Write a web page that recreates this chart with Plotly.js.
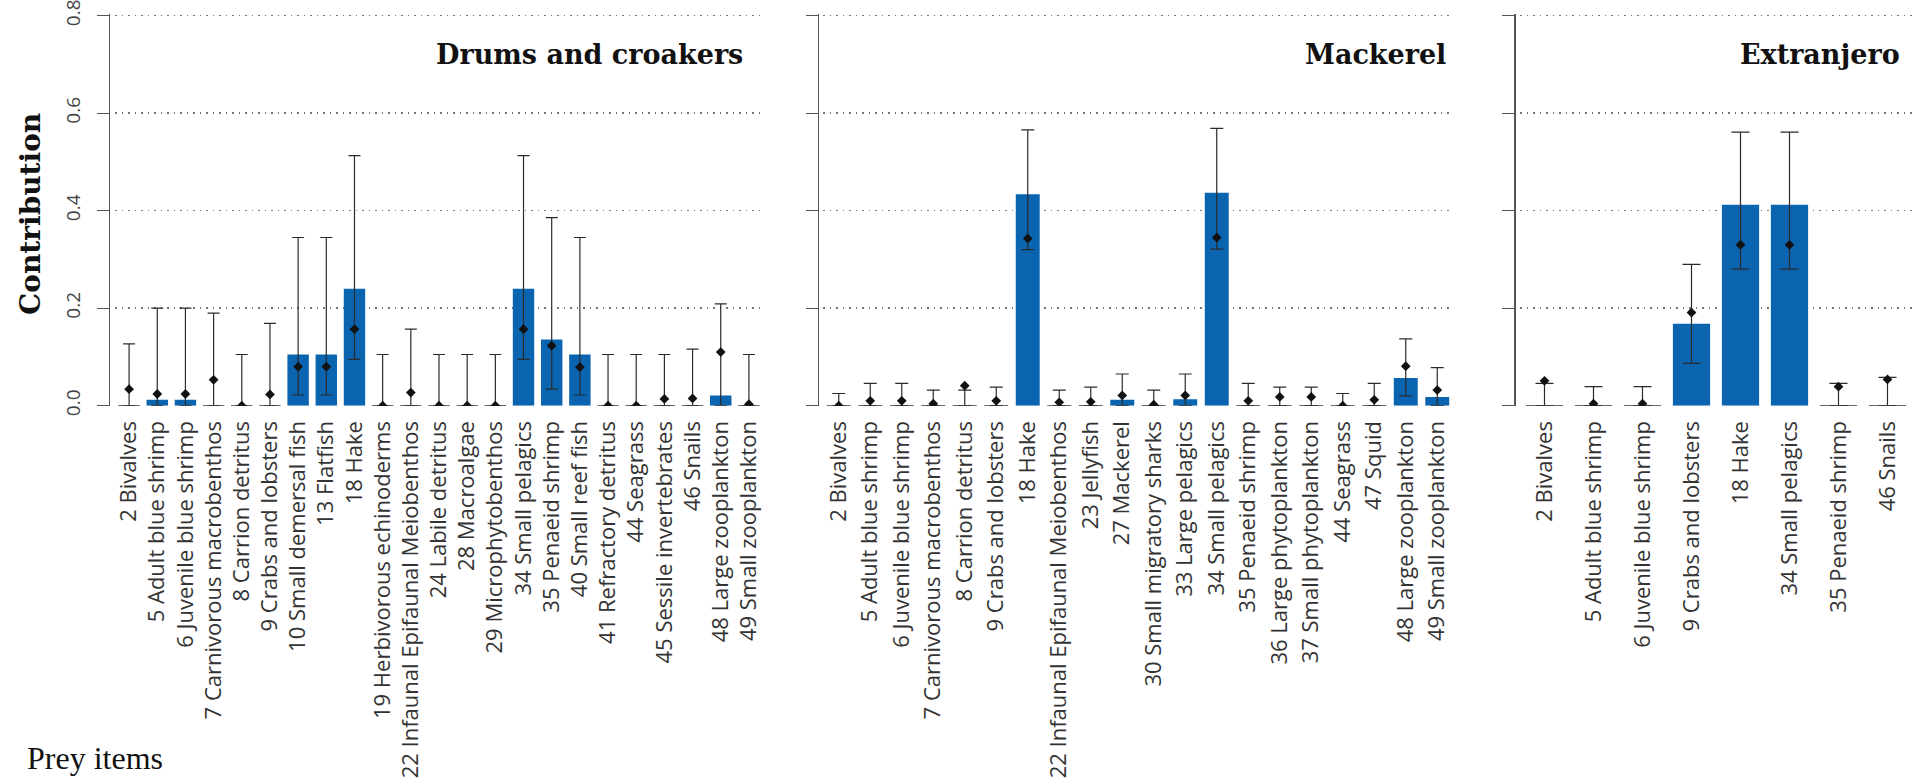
<!DOCTYPE html>
<html>
<head>
<meta charset="utf-8">
<script src="https://cdn.plot.ly/plotly-3.0.1.min.js"></script>
<style>
  html, body { margin: 0; padding: 0; background: #ffffff; }
  #chart { width: 1917px; height: 780px; }
</style>
</head>
<body>
<div id="chart"></div>
<script>
// Diet contributions of prey items for three predator groups
const yTicks = [0, 0.2, 0.4, 0.6, 0.8];
const yTickText = ["0.0", "0.2", "0.4", "0.6", "0.8"];
const gridVals = [0.2, 0.4, 0.6, 0.8];

// Drums and croakers
const drumsName = "Drums and croakers";
const drumsPrey = ["2 Bivalves", "5 Adult blue shrimp", "6 Juvenile blue shrimp", "7 Carnivorous macrobenthos",
  "8 Carrion detritus", "9 Crabs and lobsters", "10 Small demersal fish", "13 Flatfish", "18 Hake",
  "19 Herbivorous echinoderms", "22 Infaunal Epifaunal Meiobenthos", "24 Labile detritus", "28 Macroalgae",
  "29 Microphytobenthos", "34 Small pelagics", "35 Penaeid shrimp", "40 Small reef fish",
  "41 Refractory detritus", "44 Seagrass", "45 Sessile invertebrates", "46 Snails",
  "48 Large zooplankton", "49 Small zooplankton"];
const drumsBar = [0, 0.012, 0.012, 0, 0, 0, 0.105, 0.105, 0.24, 0, 0, 0, 0, 0, 0.24, 0.136, 0.105, 0, 0, 0, 0, 0.021, 0];
const drumsMean = [0.034, 0.024, 0.024, 0.053, 0, 0.023, 0.08, 0.08, 0.157, 0, 0.027, 0, 0, 0, 0.157, 0.123, 0.079, 0, 0, 0.014, 0.015, 0.11, 0.003];
const drumsLow = [0, 0, 0, 0, 0, 0, 0.022, 0.022, 0.095, 0, 0, 0, 0, 0, 0.095, 0.034, 0.022, 0, 0, 0, 0, 0, 0];
const drumsHigh = [0.127, 0.2, 0.2, 0.19, 0.105, 0.169, 0.345, 0.345, 0.513, 0.105, 0.157, 0.105, 0.105, 0.105, 0.513, 0.386, 0.345, 0.105, 0.105, 0.105, 0.116, 0.209, 0.105];

// Mackerel
const mackName = "Mackerel";
const mackPrey = ["2 Bivalves", "5 Adult blue shrimp", "6 Juvenile blue shrimp", "7 Carnivorous macrobenthos",
  "8 Carrion detritus", "9 Crabs and lobsters", "18 Hake", "22 Infaunal Epifaunal Meiobenthos", "23 Jellyfish",
  "27 Mackerel", "30 Small migratory sharks", "33 Large pelagics", "34 Small pelagics", "35 Penaeid shrimp",
  "36 Large phytoplankton", "37 Small phytoplankton", "44 Seagrass", "47 Squid",
  "48 Large zooplankton", "49 Small zooplankton"];
const mackBar = [0, 0, 0, 0, 0, 0, 0.434, 0, 0, 0.012, 0, 0.013, 0.437, 0, 0, 0, 0, 0, 0.057, 0.018];
const mackMean = [0, 0.01, 0.01, 0.004, 0.041, 0.01, 0.343, 0.007, 0.008, 0.021, 0.002, 0.021, 0.345, 0.01, 0.018, 0.018, 0, 0.012, 0.081, 0.032];
const mackLow = [0, 0, 0, 0, 0, 0, 0.32, 0, 0, 0, 0, 0, 0.321, 0, 0, 0, 0, 0, 0.02, 0];
const mackHigh = [0.025, 0.046, 0.046, 0.032, 0.032, 0.038, 0.566, 0.032, 0.038, 0.065, 0.032, 0.065, 0.569, 0.046, 0.038, 0.038, 0.025, 0.046, 0.137, 0.078];

// Extranjero
const extName = "Extranjero";
const extPrey = ["2 Bivalves", "5 Adult blue shrimp", "6 Juvenile blue shrimp", "9 Crabs and lobsters",
  "18 Hake", "34 Small pelagics", "35 Penaeid shrimp", "46 Snails"];
const extBar = [0, 0, 0, 0.168, 0.412, 0.412, 0, 0];
const extMean = [0.051, 0.004, 0.004, 0.191, 0.33, 0.33, 0.039, 0.054];
const extLow = [0, 0, 0, 0.087, 0.28, 0.28, 0, 0];
const extHigh = [0.046, 0.039, 0.039, 0.29, 0.561, 0.561, 0.046, 0.058];

// Layout geometry (paper fractions)
const W = 1917, H = 780;
const px = v => v / W;
const py = v => 1 - v / H;
const Y_MAX = 0.8035;               // a hair above 0.8 so the top grid line is kept
const yDomain = [py(405.7), py(14)];

const panels = [
  { name: drumsName, prey: drumsPrey, bar: drumsBar, mean: drumsMean, low: drumsLow, high: drumsHigh,
    dom: [px(115), px(763)], axisPos: px(108.5), capW: 6, titleX: px(745), labels: true },
  { name: mackName, prey: mackPrey, bar: mackBar, mean: mackMean, low: mackLow, high: mackHigh,
    dom: [px(823), px(1453)], axisPos: px(818), capW: 6.5, titleX: px(1448), labels: false },
  { name: extName, prey: extPrey, bar: extBar, mean: extMean, low: extLow, high: extHigh,
    dom: [px(1520), px(1912)], axisPos: px(1514.3), capW: 9, titleX: px(1902), labels: false }
];

const BAR_COLOR = "#0a64b0";
const INK = "#2b2b2b";

const traces = [];
const layout = {
  width: W, height: H,
  margin: { l: 0, r: 0, t: 0, b: 0 },
  paper_bgcolor: "#ffffff",
  plot_bgcolor: "rgba(0,0,0,0)",
  showlegend: false,
  bargap: 0.24,
  annotations: [],
  font: { family: "Open Sans, sans-serif", color: "#333" }
};

panels.forEach((p, k) => {
  const xa = k === 0 ? "x" : "x" + (k + 1);
  const ya = k === 0 ? "y" : "y" + (k + 1);
  const pos = p.prey.map((_, i) => i);

  traces.push({
    type: "bar", x: pos, y: p.bar, xaxis: xa, yaxis: ya,
    marker: { color: BAR_COLOR, line: { width: 0 } },
    hovertext: p.prey, hoverinfo: "text+y", textposition: "none"
  });

  // baseline stroke for prey items with zero contribution
  const zx = pos.filter(i => p.bar[i] === 0);
  const zy = zx.map(i => p.bar[i]);
  traces.push({
    type: "scatter", mode: "markers", x: zx, y: zy, xaxis: xa, yaxis: ya,
    marker: { size: 1, color: "rgba(0,0,0,0)" },
    error_x: { type: "constant", value: 0.38, width: 0, thickness: 1.6, color: "#2d3b4a" },
    cliponaxis: false, hoverinfo: "skip"
  });

  // mean with interval
  traces.push({
    type: "scatter", mode: "markers", x: pos, y: p.mean, xaxis: xa, yaxis: ya,
    marker: { symbol: "diamond", size: 7.5, color: "#111" },
    error_y: {
      type: "data", symmetric: false,
      array: p.high.map((h, i) => h - p.mean[i]),
      arrayminus: p.low.map((l, i) => p.mean[i] - l),
      width: p.capW, thickness: 1.2, color: INK
    },
    hovertext: p.prey, hoverinfo: "text+y",
    cliponaxis: true
  });

  layout[k === 0 ? "xaxis" : "xaxis" + (k + 1)] = {
    domain: p.dom, anchor: ya, type: "linear",
    range: [-0.5, p.prey.length - 0.5],
    tickmode: "array", tickvals: pos, ticktext: p.prey,
    showline: false, showgrid: false, zeroline: false, ticks: "",
    tickangle: -90, ticklabelstandoff: 10,
    tickfont: { family: "Open Sans, sans-serif", size: 22, color: "#333" },
    automargin: false, fixedrange: true
  };

  layout[k === 0 ? "yaxis" : "yaxis" + (k + 1)] = {
    domain: yDomain, anchor: "free", position: p.axisPos,
    range: [0, Y_MAX], tickvals: yTicks, ticktext: yTickText,
    showticklabels: p.labels, tickangle: -90, ticklabelstandoff: 9,
    ticklabeloverflow: "allow",
    tickfont: { family: "Open Sans, sans-serif", size: 19, color: "#444" },
    ticks: "outside", ticklen: 12, tickwidth: 1.2, tickcolor: "#555",
    showline: true, linecolor: "#555", linewidth: 1.2,
    showgrid: false, zeroline: false,
    minor: { tickvals: gridVals, showgrid: true, gridcolor: "#777", griddash: "1.5px,5px", gridwidth: 1.5, ticks: "" },
    automargin: false, fixedrange: true
  };

  layout.annotations.push({
    xref: "paper", yref: "paper", x: p.titleX, y: py(55),
    xanchor: "right", yanchor: "middle", showarrow: false,
    text: "<b>" + p.name + "</b>",
    font: { family: "DejaVu Serif, serif", size: 27, color: "#111" }
  });
});

layout.annotations.push({
  xref: "paper", yref: "paper", x: px(30), y: py(214),
  xanchor: "center", yanchor: "middle", showarrow: false, textangle: -90,
  text: "<b>Contribution</b>",
  font: { family: "DejaVu Serif, serif", size: 28, color: "#111" }
});

layout.annotations.push({
  xref: "paper", yref: "paper", x: px(25), y: py(758),
  xanchor: "left", yanchor: "middle", showarrow: false,
  text: "Prey items",
  font: { family: "Liberation Serif, serif", size: 32, color: "#111" }
});

Plotly.newPlot("chart", traces, layout, { displayModeBar: false, staticPlot: true });
</script>
</body>
</html>
